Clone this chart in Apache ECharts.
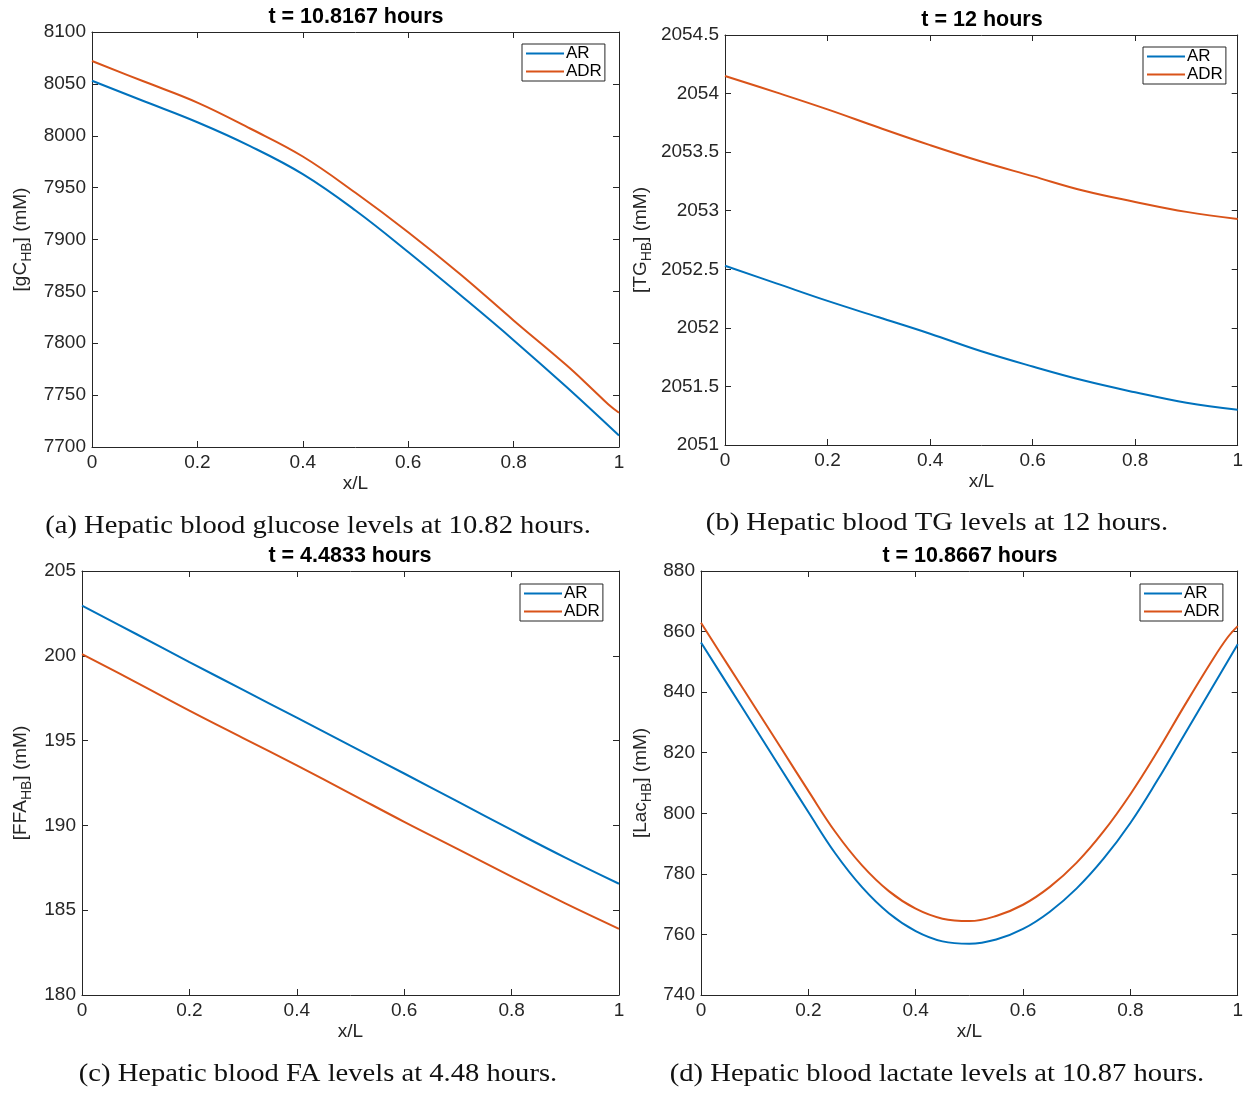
<!DOCTYPE html>
<html>
<head>
<meta charset="utf-8">
<script src="https://cdn.jsdelivr.net/npm/echarts@6/dist/echarts.min.js"></script>
<style>
  html, body { margin: 0; padding: 0; background: #ffffff; }
  #chart { width: 1246px; height: 1093px; }
</style>
</head>
<body>
<div id="chart"></div>
<script>
// Normalised position along the hepatic sinusoid (x/L)
const xPos     = [0, 0.1, 0.2, 0.3, 0.4, 0.5, 0.6, 0.7, 0.8, 0.9, 1];
const xPosTail = [0, 0.1, 0.2, 0.3, 0.4, 0.5, 0.6, 0.7, 0.8, 0.9, 0.95, 0.98, 1];
const xPosFine = [0, 0.05, 0.1, 0.15, 0.2, 0.25, 0.3, 0.35, 0.4, 0.45, 0.5,
                  0.55, 0.6, 0.65, 0.7, 0.75, 0.8, 0.85, 0.9, 0.95, 1];
const xPosFineTail = [0, 0.05, 0.1, 0.15, 0.2, 0.25, 0.3, 0.35, 0.4, 0.45, 0.5,
                      0.55, 0.6, 0.65, 0.7, 0.75, 0.8, 0.85, 0.9, 0.95, 0.98, 1];

// (a) hepatic blood glucose, t = 10.8167 h (mM)
const glucoseAR  = [8053, 8033, 8013, 7990, 7963, 7928, 7888, 7846, 7803, 7758, 7711];
const glucoseADR = [8072, 8052, 8032, 8007, 7980, 7945, 7907, 7866, 7822, 7779, 7755.5, 7741, 7733];

// (b) hepatic blood triglyceride, t = 12 h (mM)
const tgAR  = [2052.53, 2052.38, 2052.23, 2052.09, 2051.95, 2051.80, 2051.67, 2051.55, 2051.45, 2051.36, 2051.30];
const tgADR = [2054.15, 2054.01, 2053.865, 2053.71, 2053.56, 2053.42, 2053.295, 2053.17, 2053.075, 2052.99, 2052.93];

// (c) hepatic blood free fatty acids, t = 4.4833 h (mM)
const ffaAR  = [202.96, 201.30, 199.63, 197.99, 196.35, 194.70, 193.06, 191.40, 189.73, 188.10, 186.56];
const ffaADR = [200.10, 198.45, 196.77, 195.15, 193.54, 191.88, 190.21, 188.60, 186.98, 185.40, 183.90];

// (d) hepatic blood lactate, t = 10.8667 h (mM)
const lacAR  = [856.4, 842.4, 828.4, 814.4, 800.4, 786.8, 775.6, 767.0, 761.1, 757.7, 756.9,
                758.3, 761.8, 767.5, 775.2, 785.0, 796.8, 810.8, 825.8, 840.8, 855.8];
const lacADR = [862.9, 849.0, 835.2, 821.3, 807.4, 793.9, 782.8, 774.3, 768.5, 765.2, 764.4,
                766.1, 769.8, 775.7, 783.7, 794.0, 806.3, 820.3, 835.3, 849.8, 857.8, 861.8];

// Axis ranges: [min, max, step]
const xRange       = [0, 1, 0.2];
const glucoseRange = [7700, 8100, 50];
const tgRange      = [2051, 2054.5, 0.5];
const ffaRange     = [180, 205, 5];
const lacRange     = [740, 880, 20];

const seriesNames = ['AR', 'ADR'];
const titles = ['t = 10.8167 hours', 't = 12 hours', 't = 4.4833 hours', 't = 10.8667 hours'];
const yNames = [['[gC', 'HB', '] (mM)'], ['[TG', 'HB', '] (mM)'], ['[FFA', 'HB', '] (mM)'], ['[Lac', 'HB', '] (mM)']];
const captions = [
  '(a) Hepatic blood glucose levels at 10.82 hours.',
  '(b) Hepatic blood TG levels at 12 hours.',
  '(c) Hepatic blood FA levels at 4.48 hours.',
  '(d) Hepatic blood lactate levels at 10.87 hours.'
];

const SANS = "'Liberation Sans', Arial, Helvetica, sans-serif";
const SERIF = "'Liberation Serif', 'Times New Roman', serif";
const AXIS = '#262626';
const COLORS = ['#0072BD', '#D95319'];
const TICK_SIZE = 19;
const NAME_SIZE = 19;
const SUB_SIZE = 14;

// layout of the four panels
const panels = [
  { grid: { left: 92,  top: 32,  width: 527, height: 415 }, yRange: glucoseRange,
    ar: [xPos, glucoseAR], adr: [xPosTail, glucoseADR], yNameX: 21,
    titleXY: [356, 17], capXY: [318, 526], legendLT: [522, 44] },
  { grid: { left: 725, top: 35,  width: 513, height: 410 }, yRange: tgRange,
    ar: [xPos, tgAR], adr: [xPos, tgADR], yNameX: 641,
    titleXY: [982, 20], capXY: [937, 523], legendLT: [1143, 47] },
  { grid: { left: 82,  top: 571, width: 537, height: 424 }, yRange: ffaRange,
    ar: [xPos, ffaAR], adr: [xPos, ffaADR], yNameX: 21,
    titleXY: [350, 556], capXY: [318, 1074], legendLT: [520, 584] },
  { grid: { left: 701, top: 571, width: 537, height: 424 }, yRange: lacRange,
    ar: [xPosFine, lacAR], adr: [xPosFineTail, lacADR], yNameX: 641,
    titleXY: [970, 556], capXY: [937, 1074], legendLT: [1140, 584] }
];

function zip(xs, ys) { return xs.map((x, i) => [x, ys[i]]); }

// text width helper for composing the subscripted axis names
const measureCtx = document.createElement('canvas').getContext('2d');
function textWidth(str, size) {
  measureCtx.font = size + 'px ' + SANS;
  return measureCtx.measureText(str).width;
}

// vertical axis title "[X_HB] (mM)" with a lowered subscript, rotated to read upwards
function yNameGraphic(parts, cx, cy) {
  const w0 = textWidth(parts[0], NAME_SIZE);
  const w1 = textWidth(parts[1], SUB_SIZE);
  const w2 = textWidth(parts[2], NAME_SIZE);
  const start = -(w0 + w1 + w2) / 2;
  const base = { fill: AXIS, verticalAlign: 'middle', align: 'left' };
  return {
    type: 'group', x: cx, y: cy, rotation: Math.PI / 2, silent: true,
    children: [
      { type: 'text', x: start, y: 0,
        style: Object.assign({ text: parts[0], font: NAME_SIZE + 'px ' + SANS }, base) },
      { type: 'text', x: start + w0, y: 6,
        style: Object.assign({ text: parts[1], font: SUB_SIZE + 'px ' + SANS }, base) },
      { type: 'text', x: start + w0 + w1, y: 0,
        style: Object.assign({ text: parts[2], font: NAME_SIZE + 'px ' + SANS }, base) }
    ]
  };
}

const plainNumber = v => String(v);
const axisLine = { show: true, onZero: false, lineStyle: { color: AXIS, width: 1 } };
const axisTick = { show: true, inside: true, length: 6, lineStyle: { color: AXIS, width: 1 } };
const tickFont = { color: AXIS, fontSize: TICK_SIZE, fontFamily: SANS, formatter: plainNumber };

const grids = [], xAxes = [], yAxes = [], series = [], legends = [], graphics = [];

panels.forEach((p, i) => {
  grids.push(Object.assign({ containLabel: false }, p.grid));
  const [ymin, ymax, ystep] = p.yRange;

  xAxes.push({
    gridIndex: i, type: 'value', min: xRange[0], max: xRange[1], interval: xRange[2],
    position: 'bottom', axisLine, axisTick, splitLine: { show: false },
    axisLabel: Object.assign({ margin: 6 }, tickFont),
    name: 'x/L', nameLocation: 'middle', nameGap: 27,
    nameTextStyle: { color: AXIS, fontSize: NAME_SIZE, fontFamily: SANS }
  });
  xAxes.push({
    gridIndex: i, type: 'value', min: xRange[0], max: xRange[1], interval: xRange[2],
    position: 'top', axisLine, axisTick, splitLine: { show: false }, axisLabel: { show: false }
  });

  yAxes.push({
    gridIndex: i, type: 'value', min: ymin, max: ymax, interval: ystep,
    position: 'left', axisLine, axisTick, splitLine: { show: false },
    axisLabel: Object.assign({ margin: 6 }, tickFont)
  });
  yAxes.push({
    gridIndex: i, type: 'value', min: ymin, max: ymax, interval: ystep,
    position: 'right', axisLine, axisTick, splitLine: { show: false }, axisLabel: { show: false }
  });

  [p.ar, p.adr].forEach((d, k) => {
    series.push({
      type: 'line', name: seriesNames[k],
      xAxisIndex: 2 * i, yAxisIndex: 2 * i,
      data: zip(d[0], d[1]),
      symbol: 'none', smooth: 0.4, clip: true,
      lineStyle: { color: COLORS[k], width: 2 },
      itemStyle: { color: COLORS[k] }
    });
  });

  legends.push({
    data: seriesNames, orient: 'vertical',
    left: p.legendLT[0], top: p.legendLT[1],
    icon: 'rect', itemWidth: 38, itemHeight: 2, itemGap: 1,
    padding: [1, 3, 1, 4],
    borderColor: AXIS, borderWidth: 1, borderRadius: 0, backgroundColor: '#ffffff',
    selectedMode: false,
    textStyle: { color: '#000', fontSize: 17, fontFamily: SANS, lineHeight: 16, padding: [0, 0, 0, -3] }
  });

  graphics.push(yNameGraphic(yNames[i], p.yNameX, p.grid.top + p.grid.height / 2));
  graphics.push({
    type: 'text', x: p.titleXY[0], y: p.titleXY[1], silent: true,
    style: { text: titles[i], fill: '#000', font: 'bold 21.5px ' + SANS, align: 'center', verticalAlign: 'middle' }
  });
  graphics.push({
    type: 'text', x: p.capXY[0], y: p.capXY[1], scaleX: 1.1, silent: true,
    style: { text: captions[i], fill: '#111', font: '26px ' + SERIF, align: 'center', verticalAlign: 'middle' }
  });
});

const chart = echarts.init(document.getElementById('chart'), null, { renderer: 'canvas' });
chart.setOption({
  backgroundColor: '#ffffff',
  animation: false,
  grid: grids,
  xAxis: xAxes,
  yAxis: yAxes,
  series,
  legend: legends,
  graphic: graphics
});
</script>
</body>
</html>
